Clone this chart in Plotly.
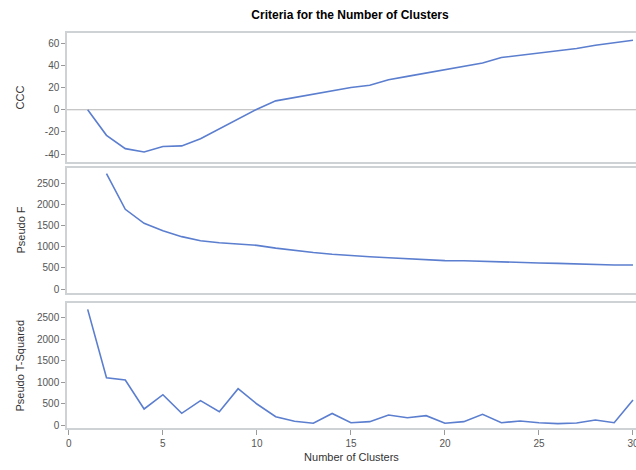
import plotly.graph_objects as go

clusters = list(range(1, 31))
ccc = [0, -23, -35, -38, -33, -32.5, -26, -17, -8, 0.5, 8, 11, 13.5, 17, 20, 22, 27, 30, 33, 36.5, 39.5, 42, 47, 49, 51.5, 53.5, 55, 58, 60, 62.5]
pseudo_f = [None, 2720, 1880, 1550, 1375, 1235, 1140, 1092, 1054, 1030, 965, 905, 860, 818, 785, 762, 738, 715, 692, 670, 668, 653, 632, 630, 613, 605, 590, 582, 566, 566]
pseudo_t2 = [2700, 1105, 1050, 374, 708, 273, 568, 311, 848, 490, 194, 86, 40, 270, 54, 78, 234, 171, 218, 40, 78, 249, 54, 93, 54, 31, 47, 117, 54, 584]

title_text = "Criteria for the Number of Clusters"
x_title = "Number of Clusters"
y_titles = ["CCC", "Pseudo F", "Pseudo T-Squared"]
ccc_ticks = [-40, -20, 0, 20, 40, 60]
ccc_ticklabels = ["-40", "-20", "0", "20", "40", "60"]
stat_ticks = [0, 500, 1000, 1500, 2000, 2500]
x_ticks = [0, 5, 10, 15, 20, 25, 30]

LINE = "#5b7ecf"
FRAME = "#cfd2d4"
TICKC = "#555555"
FONT = "Liberation Sans, Arial, sans-serif"

W, H = 636, 470
L, T, B = 67, 33, 42
PW = W - L

fig = go.Figure()
fig.add_trace(go.Scatter(x=clusters, y=ccc, mode="lines", line=dict(color=LINE, width=1.6),
                         xaxis="x", yaxis="y", showlegend=False))
fig.add_trace(go.Scatter(x=clusters, y=pseudo_f, mode="lines", line=dict(color=LINE, width=1.6),
                         xaxis="x2", yaxis="y2", showlegend=False))
fig.add_trace(go.Scatter(x=clusters, y=pseudo_t2, mode="lines", line=dict(color=LINE, width=1.6),
                         xaxis="x3", yaxis="y3", showlegend=False))

xr = [-0.1, 30.16]
common_x = dict(range=xr, showgrid=False, zeroline=False, showline=True, linecolor=FRAME,
                linewidth=1.5, mirror=True)
common_y = dict(showgrid=False, zeroline=False, showline=True, linecolor=FRAME, linewidth=1.5,
                mirror=True, ticks="outside", ticklen=4, tickcolor="#9a9a9a",
                tickfont=dict(size=10, color=TICKC, family=FONT))

doms = [[0.6734, 1.0], [0.3418, 0.6582], [0.0, 0.3165]]

fig.update_layout(
    width=W, height=H,
    margin=dict(l=L, r=0, t=T, b=B, autoexpand=False),
    paper_bgcolor="white", plot_bgcolor="white",
    font=dict(family=FONT, color=TICKC),
    title=dict(text="<b>" + title_text + "</b>", x=350 / W, xanchor="center",
               y=1 - 15 / H, yanchor="middle", font=dict(size=12, color="#000000", family=FONT)),
    xaxis=dict(**common_x, domain=[0, 1], anchor="y", showticklabels=False, ticks=""),
    xaxis2=dict(**common_x, domain=[0, 1], anchor="y2", showticklabels=False, ticks=""),
    xaxis3=dict(**common_x, domain=[0, 1], anchor="y3", tickvals=x_ticks,
                ticks="outside", ticklen=5, tickcolor="#9a9a9a", ticklabeloverflow="allow",
                tickfont=dict(size=10, color=TICKC, family=FONT),
                title=dict(text=x_title, font=dict(size=11, color="#333333", family=FONT), standoff=6)),
    yaxis=dict(**common_y, domain=doms[0], anchor="x", range=[-47, 69], tickvals=ccc_ticks,
               ticktext=ccc_ticklabels),
    yaxis2=dict(**common_y, domain=doms[1], anchor="x2", range=[-94, 2854], tickvals=stat_ticks),
    yaxis3=dict(**common_y, domain=doms[2], anchor="x3", range=[-70, 2850], tickvals=stat_ticks),
)

# zero reference line in CCC panel
fig.add_shape(type="line", xref="x domain", yref="y", x0=0, x1=1, y0=0, y1=0,
              line=dict(color="#b5b5b5", width=1.2), layer="below")

for i, t in enumerate(y_titles):
    d = doms[i]
    fig.add_annotation(text=t, xref="paper", yref="paper", x=(20 - L) / PW,
                       y=(d[0] + d[1]) / 2, xanchor="center", yanchor="middle",
                       textangle=-90, showarrow=False,
                       font=dict(size=11, color="#333333", family=FONT))

fig.write_html("out.html", config={"displayModeBar": False},
               post_script="document.body.style.margin='0';document.body.style.overflow='hidden';")
